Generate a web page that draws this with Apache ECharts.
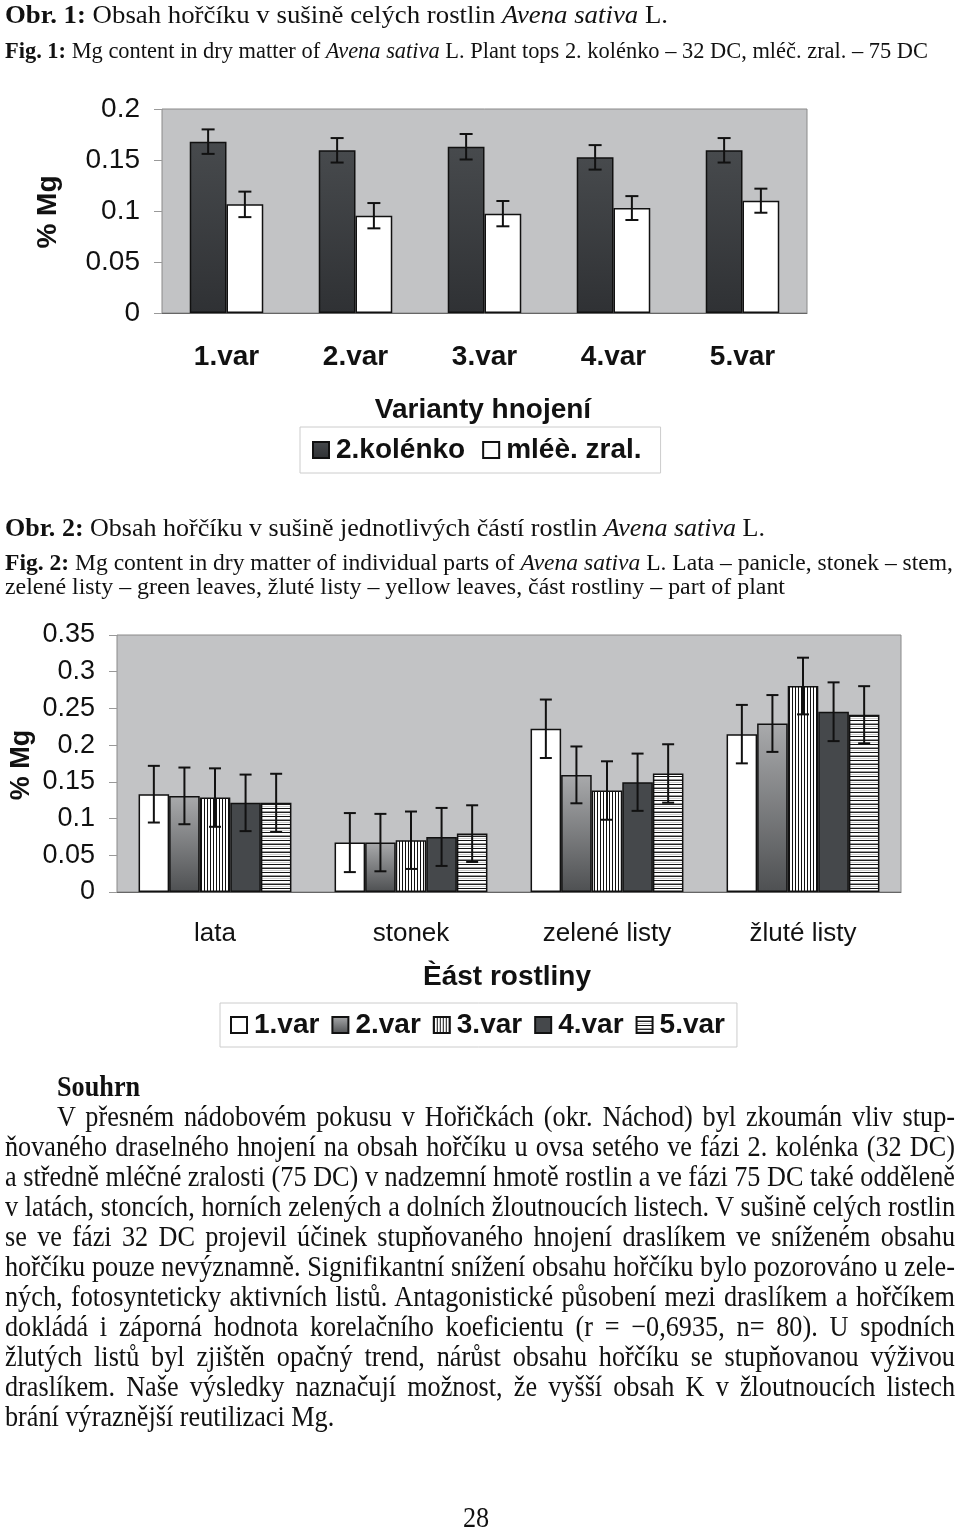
<!DOCTYPE html>
<html><head><meta charset="utf-8">
<script src="https://cdn.jsdelivr.net/npm/echarts@6/dist/echarts.min.js"></script>
<style>
html,body{margin:0;padding:0;background:#fff;}
#page{position:relative;width:960px;height:1529px;overflow:hidden;background:#fff;}
#chart{position:absolute;left:0;top:0;width:960px;height:1529px;}
.t{position:absolute;white-space:nowrap;font-family:'Liberation Serif','Times New Roman',serif;color:#111;transform-origin:0 0;}
</style></head><body>
<div id="page">
<div id="chart"></div>
<div id="texts"></div>
</div>
<script>
// ---------- DATA ----------
const fig1Categories = ['1.var', '2.var', '3.var', '4.var', '5.var'];
const fig1SeriesNames = ['2.kolénko', 'mléè. zral.'];
const fig1Kolenko = [0.168, 0.1595, 0.163, 0.1526, 0.1595];
const fig1KolenkoErr = [0.012, 0.012, 0.0125, 0.012, 0.012];
const fig1Zral = [0.1065, 0.0954, 0.0974, 0.1029, 0.1101];
const fig1ZralErr = [0.0125, 0.0124, 0.0124, 0.0117, 0.0118];
const fig1YTicks = [0, 0.05, 0.1, 0.15, 0.2];

const fig2Categories = ['lata', 'stonek', 'zelené listy', 'žluté listy'];
const fig2SeriesNames = ['1.var', '2.var', '3.var', '4.var', '5.var'];
const fig2Var1 = [0.1332, 0.0673, 0.2223, 0.215];
const fig2Var2 = [0.1309, 0.0673, 0.1595, 0.2295];
const fig2Var3 = [0.1286, 0.0705, 0.1382, 0.2805];
const fig2Var4 = [0.1214, 0.075, 0.1495, 0.2455];
const fig2Var5 = [0.1214, 0.0795, 0.1614, 0.2414];
const fig2Err1 = [0.0386, 0.0402, 0.0398, 0.0398];
const fig2Err2 = [0.0386, 0.0391, 0.0387, 0.0387];
const fig2Err3 = [0.0398, 0.0391, 0.0398, 0.0386];
const fig2Err4 = [0.0385, 0.0395, 0.039, 0.04];
const fig2Err5 = [0.0396, 0.0386, 0.0398, 0.0389];
const fig2YTicks = [0, 0.05, 0.1, 0.15, 0.2, 0.25, 0.3, 0.35];

// ---------- STYLE HELPERS ----------
const SANS = "'Liberation Sans', Arial, sans-serif";
function pattern(w, h, draw) {
  const c = document.createElement('canvas');
  c.width = w; c.height = h;
  const g = c.getContext('2d');
  draw(g);
  return { image: c, repeat: 'repeat' };
}
const vStripes = pattern(3, 4, g => { g.fillStyle = '#fff'; g.fillRect(0, 0, 3, 4); g.fillStyle = '#111'; g.fillRect(0, 0, 1, 4); });
const hStripes = pattern(4, 8, g => {
  const rows = ['#111', '#fff', '#fff', '#999', '#222', '#fff', '#ccc', '#fff'];
  rows.forEach((col, i) => { g.fillStyle = col; g.fillRect(0, i, 4, 1); });
});
const darkGrad = { type: 'linear', x: 0, y: 0, x2: 0, y2: 1, colorStops: [{ offset: 0, color: '#474a4d' }, { offset: 1, color: '#2f3134' }] };
const grayGrad = { type: 'linear', x: 0, y: 0, x2: 0, y2: 1, colorStops: [{ offset: 0, color: '#a9aaac' }, { offset: 1, color: '#4e5052' }] };
const bord = { borderColor: '#111', borderWidth: 1.5 };

function errSeries(gridIdx, idx, n, gap, vals, errs, cap) {
  return {
    type: 'custom', xAxisIndex: gridIdx, yAxisIndex: gridIdx, z: 10, silent: true,
    data: vals.map((v, i) => [i, v, errs[i]]),
    encode: { x: 0, y: 1 },
    renderItem: function (params, api) {
      const ci = api.value(0), v = api.value(1), e = api.value(2);
      const band = api.size([1, 0])[0];
      const total = band * (1 - gap);
      const bw = total / n;
      const c = api.coord([ci, v]);
      const x = c[0] - total / 2 + bw * (idx + 0.5);
      const yt = api.coord([ci, v + e])[1], yb = api.coord([ci, v - e])[1];
      const st = { stroke: '#111', lineWidth: 2 };
      return {
        type: 'group', children: [
          { type: 'line', shape: { x1: x, y1: yt, x2: x, y2: yb }, style: st },
          { type: 'line', shape: { x1: x - cap, y1: yt, x2: x + cap, y2: yt }, style: st },
          { type: 'line', shape: { x1: x - cap, y1: yb, x2: x + cap, y2: yb }, style: st }
        ]
      };
    }
  };
}
function gtext(text, x, y, size, rot) {
  return {
    type: 'text', x: x, y: y, rotation: rot || 0, silent: true,
    style: { text: text, fill: '#111', fontSize: size, fontWeight: 'bold', fontFamily: SANS,
      textAlign: 'center', textVerticalAlign: 'middle', align: 'center', verticalAlign: 'middle' }
  };
}
function yAx(gi, ticks, size) {
  return {
    type: 'value', gridIndex: gi, min: ticks[0], max: ticks[ticks.length - 1], interval: ticks[1] - ticks[0],
    splitLine: { show: false }, axisLine: { show: false },
    axisTick: { show: true, length: 8, lineStyle: { color: '#999' } },
    axisLabel: { margin: 22, fontSize: size, color: '#111', fontFamily: SANS }
  };
}
const GAP1 = 0.43, GAP2 = 0.22;

const chart = echarts.init(document.getElementById('chart'));
chart.setOption({
  animation: false,
  backgroundColor: 'transparent',
  grid: [
    { left: 162, top: 109, width: 645, height: 204, show: true, backgroundColor: '#c2c3c5', borderColor: '#8a8a8a', borderWidth: 1, outerBoundsMode: 'none' },
    { left: 117, top: 635, width: 784, height: 257, show: true, backgroundColor: '#c2c3c5', borderColor: '#8a8a8a', borderWidth: 1, outerBoundsMode: 'none' }
  ],
  xAxis: [
    { type: 'category', gridIndex: 0, data: fig1Categories,
      axisLine: { lineStyle: { color: '#666' } }, axisTick: { length: 9, lineStyle: { color: '#bbb' } },
      axisLabel: { interval: 0, margin: 30, fontSize: 28, fontWeight: 'bold', color: '#111', fontFamily: SANS } },
    { type: 'category', gridIndex: 1, data: fig2Categories,
      axisLine: { lineStyle: { color: '#666' } }, axisTick: { length: 9, lineStyle: { color: '#bbb' } },
      axisLabel: { interval: 0, margin: 29, fontSize: 26, color: '#111', fontFamily: SANS } }
  ],
  yAxis: [yAx(0, fig1YTicks, 28), yAx(1, fig2YTicks, 27)],
  legend: [
    { data: fig1SeriesNames, left: 300, top: 427, padding: [7, 19, 7, 12], itemGap: 17, itemWidth: 16, itemHeight: 16,
      icon: 'rect', borderColor: '#ccc', borderWidth: 1, selectedMode: false,
      textStyle: { fontSize: 28, fontWeight: 'bold', color: '#111', fontFamily: SANS, lineHeight: 32, padding: [0, 0, 0, 2] } },
    { data: fig2SeriesNames, left: 220, top: 1003, padding: [6, 12, 6, 10], itemGap: 12, itemWidth: 16, itemHeight: 16,
      icon: 'rect', borderColor: '#ccc', borderWidth: 1, selectedMode: false,
      textStyle: { fontSize: 28, fontWeight: 'bold', color: '#111', fontFamily: SANS, lineHeight: 32, padding: [0, 0, 0, 2] } }
  ],
  graphic: [
    gtext('% Mg', 48, 212, 28, Math.PI / 2),
    gtext('Varianty hnojení', 483, 410, 28),
    gtext('% Mg', 22, 765, 27, Math.PI / 2),
    gtext('Èást rostliny', 507, 977, 28)
  ],
  series: [
    { name: fig1SeriesNames[0], type: 'bar', xAxisIndex: 0, yAxisIndex: 0, data: fig1Kolenko, barGap: '0%', barCategoryGap: (GAP1 * 100) + '%',
      itemStyle: Object.assign({ color: darkGrad }, bord) },
    { name: fig1SeriesNames[1], type: 'bar', xAxisIndex: 0, yAxisIndex: 0, data: fig1Zral, barGap: '0%', barCategoryGap: (GAP1 * 100) + '%',
      itemStyle: Object.assign({ color: '#ffffff' }, bord) },
    errSeries(0, 0, 2, GAP1, fig1Kolenko, fig1KolenkoErr, 6.5),
    errSeries(0, 1, 2, GAP1, fig1Zral, fig1ZralErr, 6.5),

    { name: fig2SeriesNames[0], type: 'bar', xAxisIndex: 1, yAxisIndex: 1, data: fig2Var1, barGap: '0%', barCategoryGap: (GAP2 * 100) + '%',
      itemStyle: Object.assign({ color: '#ffffff' }, bord) },
    { name: fig2SeriesNames[1], type: 'bar', xAxisIndex: 1, yAxisIndex: 1, data: fig2Var2, barGap: '0%', barCategoryGap: (GAP2 * 100) + '%',
      itemStyle: Object.assign({ color: grayGrad }, bord) },
    { name: fig2SeriesNames[2], type: 'bar', xAxisIndex: 1, yAxisIndex: 1, data: fig2Var3, barGap: '0%', barCategoryGap: (GAP2 * 100) + '%',
      itemStyle: Object.assign({ color: vStripes }, bord) },
    { name: fig2SeriesNames[3], type: 'bar', xAxisIndex: 1, yAxisIndex: 1, data: fig2Var4, barGap: '0%', barCategoryGap: (GAP2 * 100) + '%',
      itemStyle: Object.assign({ color: '#45484b' }, bord) },
    { name: fig2SeriesNames[4], type: 'bar', xAxisIndex: 1, yAxisIndex: 1, data: fig2Var5, barGap: '0%', barCategoryGap: (GAP2 * 100) + '%',
      itemStyle: Object.assign({ color: hStripes }, bord) },
    errSeries(1, 0, 5, GAP2, fig2Var1, fig2Err1, 6),
    errSeries(1, 1, 5, GAP2, fig2Var2, fig2Err2, 6),
    errSeries(1, 2, 5, GAP2, fig2Var3, fig2Err3, 6),
    errSeries(1, 3, 5, GAP2, fig2Var4, fig2Err4, 6),
    errSeries(1, 4, 5, GAP2, fig2Var5, fig2Err5, 6)
  ]
});

// ---------- TEXT ----------
const box = document.getElementById('texts');
function addLine(html, left, cy, fs) {
  const d = document.createElement('div');
  d.className = 't';
  d.innerHTML = html;
  d.style.fontSize = fs + 'px';
  d.style.lineHeight = fs + 'px';
  d.style.left = left + 'px';
  d.style.top = (cy - fs * 0.5) + 'px';
  box.appendChild(d);
  return d;
}
// captions scaled to their width in the reference
const captions = [
  ['<b>Obr. 1:</b> Obsah hořčíku v sušině celých rostlin <i>Avena sativa</i> L.', 5, 14, 663, 25],
  ['<b>Fig. 1:</b> Mg content in dry matter of <i>Avena sativa</i> L. Plant tops 2. kolénko – 32 DC, mléč. zral. – 75 DC', 5, 50, 923, 24],
  ['<b>Obr. 2:</b> Obsah hořčíku v sušině jednotlivých částí rostlin <i>Avena sativa</i> L.', 5, 527, 760, 25],
  ['<b>Fig. 2:</b> Mg content in dry matter of individual parts of <i>Avena sativa</i> L. Lata – panicle, stonek – stem,', 5, 562, 948, 24],
  ['zelené listy – green leaves, žluté listy – yellow leaves, část rostliny – part of plant', 5, 586, 780, 24]
];
captions.forEach(c => {
  const d = addLine(c[0], c[1], c[2], c[4]);
  d.style.display = 'inline-block';
  const w = d.getBoundingClientRect().width;
  d.style.transform = 'scaleX(' + (c[3] / w) + ')';
});

const para = [
  'V přesném nádobovém pokusu v Hořičkách (okr. Náchod) byl zkoumán vliv stup-',
  'ňovaného draselného hnojení na obsah hořčíku u ovsa setého ve fázi 2. kolénka (32 DC)',
  'a středně mléčné zralosti (75 DC) v nadzemní hmotě rostlin a ve fázi 75 DC také odděleně',
  'v latách, stoncích, horních zelených a dolních žloutnoucích listech. V sušině celých rostlin',
  'se ve fázi 32 DC projevil účinek stupňovaného hnojení draslíkem ve sníženém obsahu',
  'hořčíku pouze nevýznamně. Signifikantní snížení obsahu hořčíku bylo pozorováno u zele-',
  'ných, fotosynteticky aktivních listů. Antagonistické působení mezi draslíkem a hořčíkem',
  'dokládá i záporná hodnota korelačního koeficientu (r = −0,6935, n= 80). U spodních',
  'žlutých listů byl zjištěn opačný trend, nárůst obsahu hořčíku se stupňovanou výživou',
  'draslíkem. Naše výsledky naznačují možnost, že vyšší obsah K v žloutnoucích listech',
  'brání výraznější reutilizaci Mg.'
];
const PFS = 29;
// measure natural widths to find a common horizontal compression
let maxRatio = 0;
const els = para.map((txt, i) => {
  const left = i === 0 ? 57 : 5;
  const d = addLine(txt, left, 1116 + i * 30, PFS);
  d.style.display = 'inline-block';
  const w = d.getBoundingClientRect().width;
  const target = i === 0 ? 898 : 950;
  if (i < para.length - 1) maxRatio = Math.max(maxRatio, w / target);
  return [d, target];
});
const s = 1 / maxRatio;
els.forEach(([d, target], i) => {
  d.style.transform = 'scaleX(' + s + ')';
  if (i < para.length - 1) {
    d.style.display = 'block';
    d.style.width = (target / s) + 'px';
    d.style.textAlign = 'justify';
    d.style.textAlignLast = 'justify';
  }
});
const sh = addLine('<b>Souhrn</b>', 57, 1086, PFS);
sh.style.transform = 'scaleX(' + s + ')';
const pg = addLine('28', 463, 1517, PFS);
pg.style.transform = 'scaleX(' + s + ')';
</script>
</body></html>
